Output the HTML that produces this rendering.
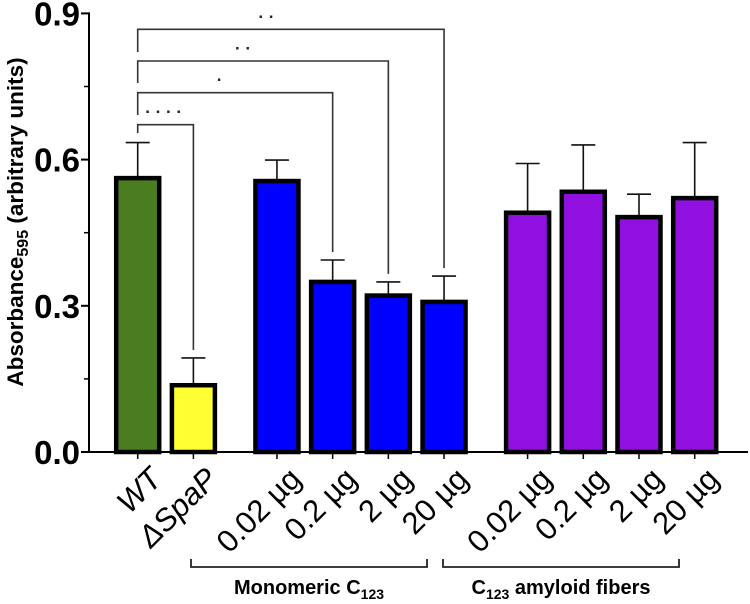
<!DOCTYPE html>
<html><head><meta charset="utf-8"><style>
body{margin:0;background:#fff}
svg{display:block;font-family:"Liberation Sans",Arial,sans-serif}
</style></head><body>
<svg id="chart" width="750" height="604" viewBox="0 0 750 604" xmlns="http://www.w3.org/2000/svg"></svg>
<script>
const categories=["WT","ΔSpaP","0.02 µg","0.2 µg","2 µg","20 µg","0.02 µg","0.2 µg","2 µg","20 µg"];
const values=[0.562,0.137,0.556,0.349,0.321,0.308,0.491,0.534,0.482,0.521];
const errors=[0.073,0.056,0.043,0.045,0.028,0.053,0.101,0.096,0.047,0.114];
const colors=["#4a7d20","#ffff33","#0000ff","#0000ff","#0000ff","#0000ff","#9010e0","#9010e0","#9010e0","#9010e0"];
const yTicks=[0,0.3,0.6,0.9];
const yTickLabels=["0.0","0.3","0.6","0.9"];
const sigFrom=[0,0,0,0];
const sigTo=[1,3,4,5];
const sigLabels=["· · · ·","·","· ·","· ·"];
const slots=[0,1,2.5,3.5,4.5,5.5,7,8,9,10];

const NS="http://www.w3.org/2000/svg";
const svg=document.getElementById('chart');
const y0=452,yPer=146.2/0.3,xAxis=89;
function yS(v){return y0-v*yPer;}
function xS(i){return 137.7+slots[i]*55.7;}
function mk(t,a,p){const e=document.createElementNS(NS,t);for(const k in a)e.setAttribute(k,a[k]);(p||svg).appendChild(e);return e;}

values.forEach((v,i)=>{
  const cx=xS(i),w=43;
  const eb=mk('line',{x1:cx,x2:cx,y1:yS(v),y2:yS(v+errors[i]),stroke:'#111','stroke-width':1.6});
  
  
  const cap=mk('line',{x1:cx-12,x2:cx+12,y1:yS(v+errors[i]),y2:yS(v+errors[i]),stroke:'#111','stroke-width':1.6});
  
  
  const r=mk('rect',{x:cx-w/2,y:yS(v),width:w,height:y0-yS(v),fill:colors[i],stroke:'#000','stroke-width':4.5});
  
  
  const tk=mk('line',{x1:cx,x2:cx,y1:y0,y2:y0+7,stroke:'#000','stroke-width':1.5});
  
  
  const lb=mk('text',{x:0,y:0,transform:`translate(${cx+10},${y0+13}) rotate(-45)`,'text-anchor':'end','font-size':'31px','dominant-baseline':'hanging','font-style':i<2?'italic':'normal'});
  lb.textContent=categories[i];
  
  
});

const ya=mk('line',{x1:xAxis,x2:xAxis,y1:yS(0.9)-1,y2:y0+1,stroke:'#000','stroke-width':2});


const xa=mk('line',{x1:xAxis,x2:748,y1:y0,y2:y0,stroke:'#000','stroke-width':2});


yTicks.forEach((t,i)=>{
  const tk=mk('line',{x1:xAxis-8,x2:xAxis,y1:yS(t),y2:yS(t),stroke:'#000','stroke-width':2});
  
  
  const tl=mk('text',{x:80,y:yS(t)+12,'text-anchor':'end','font-size':'33px','font-weight':'bold'});
  tl.textContent=yTickLabels[i];
  
  
  if(i<yTicks.length-1){
    const mt=mk('line',{x1:xAxis-5,x2:xAxis,y1:yS(t+0.15),y2:yS(t+0.15),stroke:'#000','stroke-width':1.5});
    
    
  }
});
const yt=mk('text',{x:0,y:0,transform:'translate(23,222) rotate(-90)','text-anchor':'middle','font-size':'22.5px','font-weight':'bold'});
yt.innerHTML='Absorbance<tspan font-size="16px" dy="5">595</tspan><tspan dy="-5"> (arbitrary units)</tspan>';



const levels=[124.7,92.7,61,29.3];
const leftEnds=[133,115,83,52];
sigFrom.forEach((f,k)=>{
  const a=xS(f),b=xS(sigTo[k]),yy=levels[k];
  const rightEnd=yS(values[sigTo[k]]+errors[sigTo[k]])-8;
  const p=mk('path',{d:`M${a},${leftEnds[k]}V${yy}H${b}V${rightEnd}`,fill:'none',stroke:'#333','stroke-width':1.6});
  
  
  const t=mk('text',{x:(k===0?a+26:(a+b)/2-((b-a)*0.08)),y:yy-7,'text-anchor':'middle','font-size':'17px','font-weight':'bold',fill:'#222'});
  t.textContent=sigLabels[k];
  
  
});

[[191,427,309],[443,679,561]].forEach((g,k)=>{
  const p=mk('path',{d:`M${g[0]},559V567H${g[1]}V559`,fill:'none',stroke:'#222','stroke-width':1.8});
  
  
  const t=mk('text',{x:g[2],y:594,'text-anchor':'middle','font-size':'20px','font-weight':'bold'});
  if(k===0) t.innerHTML='Monomeric C<tspan font-size="14px" dy="5">123</tspan>';
  else t.innerHTML='C<tspan font-size="14px" dy="5">123</tspan><tspan dy="-5"> amyloid fibers</tspan>';
  
  
});
</script>
</body></html>
